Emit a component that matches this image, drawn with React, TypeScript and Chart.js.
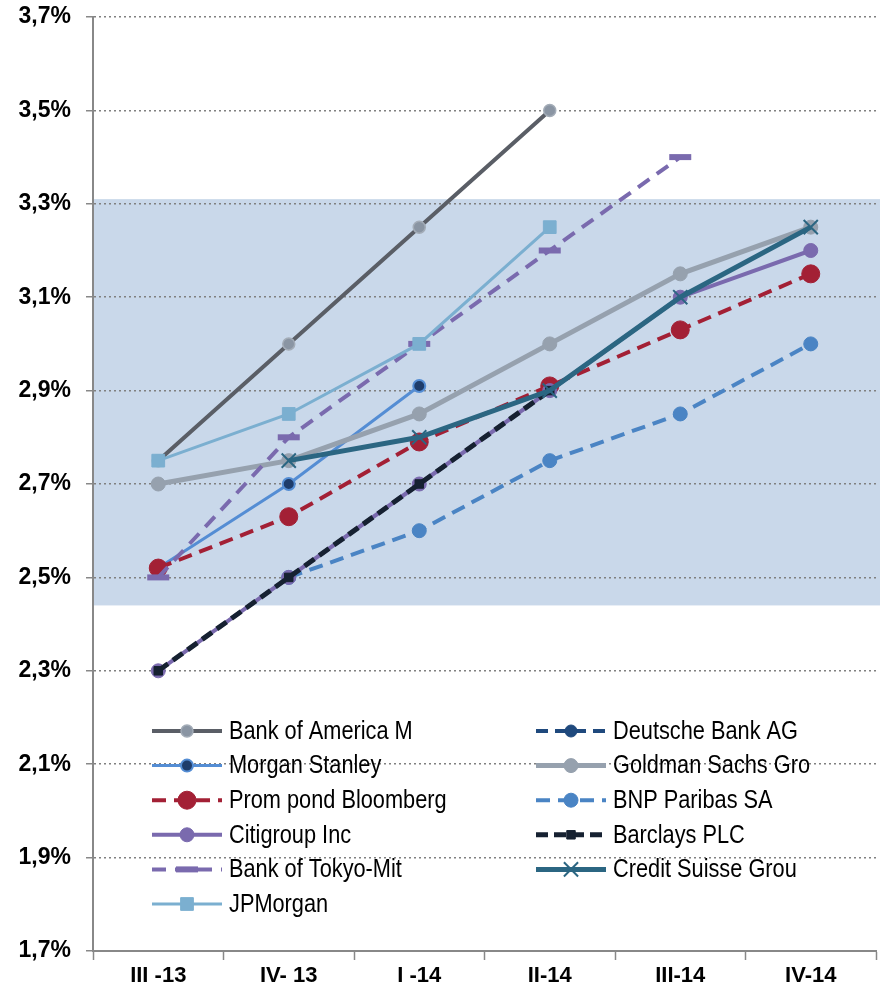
import React, { useEffect, useRef } from 'react';
import { Chart, registerables } from 'chart.js';
import { drawPoint } from 'chart.js/helpers';

Chart.register(...registerables);

const categories = ['III -13', 'IV- 13', 'I -14', 'II-14', 'III-14', 'IV-14'];

const bankOfAmerica = [2.75, 3.0, 3.25, 3.5, null, null];
const deutscheBank = [null, null, null, null, null, null];
const morganStanley = [2.52, 2.7, 2.91, null, null, null];
const goldmanSachs = [2.7, 2.75, 2.85, 3.0, 3.15, 3.25];
const promPondBloomberg = [2.52, 2.63, 2.79, 2.91, 3.03, 3.15];
const bnpParibas = [null, 2.5, 2.6, 2.75, 2.85, 3.0];
const citigroup = [2.3, 2.5, 2.7, 2.9, 3.1, 3.2];
const barclays = [2.3, 2.5, 2.7, 2.9, null, null];
const bankOfTokyo = [2.5, 2.8, 3.0, 3.2, 3.4, null];
const creditSuisse = [null, 2.75, 2.8, 2.9, 3.1, 3.25];
const jpMorgan = [2.75, 2.85, 3.0, 3.25, null, null];

const seriesNames = [
  'Bank of America M',
  'Deutsche Bank AG',
  'Morgan Stanley',
  'Goldman Sachs Gro',
  'Prom pond Bloomberg',
  'BNP Paribas SA',
  'Citigroup Inc',
  'Barclays PLC',
  'Bank of Tokyo-Mit',
  'Credit Suisse Grou',
  'JPMorgan',
];

const bandRange = [2.44, 3.31];
const yMin = 1.7;
const yMax = 3.7;
const yStep = 0.2;

const TICK_FONT = "'Liberation Sans', Arial, sans-serif";
const LEGEND_FONT = "'Liberation Sans', Arial, sans-serif";

const seriesValues = [
  bankOfAmerica,
  deutscheBank,
  morganStanley,
  goldmanSachs,
  promPondBloomberg,
  bnpParibas,
  citigroup,
  barclays,
  bankOfTokyo,
  creditSuisse,
  jpMorgan,
];

const styles: any[] = [
  { borderColor: '#5A5E66', borderWidth: 4, borderDash: [], pointStyle: 'circle', pointRadius: 6, pointBackgroundColor: '#8A95A3', pointBorderColor: '#A3ACB7', pointBorderWidth: 1.5 },
  { borderColor: '#1F497D', borderWidth: 4, borderDash: [12, 7], pointStyle: 'circle', pointRadius: 6, pointBackgroundColor: '#1F497D', pointBorderColor: '#1F497D', pointBorderWidth: 1 },
  { borderColor: '#548DD4', borderWidth: 3, borderDash: [], pointStyle: 'circle', pointRadius: 6, pointBackgroundColor: '#1F3D6B', pointBorderColor: '#548DD4', pointBorderWidth: 2 },
  { borderColor: '#96A1AE', borderWidth: 5, borderDash: [], pointStyle: 'circle', pointRadius: 7, pointBackgroundColor: '#96A1AE', pointBorderColor: '#96A1AE', pointBorderWidth: 1 },
  { borderColor: '#A32035', borderWidth: 4, borderDash: [14, 8], pointStyle: 'circle', pointRadius: 9, pointBackgroundColor: '#A32035', pointBorderColor: '#A32035', pointBorderWidth: 1 },
  { borderColor: '#4A84C4', borderWidth: 4, borderDash: [14, 8], pointStyle: 'circle', pointRadius: 7, pointBackgroundColor: '#4A84C4', pointBorderColor: '#4A84C4', pointBorderWidth: 1 },
  { borderColor: '#7A6AAE', borderWidth: 4, borderDash: [], pointStyle: 'circle', pointRadius: 7, pointBackgroundColor: '#7A6AAE', pointBorderColor: '#7A6AAE', pointBorderWidth: 1 },
  { borderColor: '#162131', borderWidth: 5, borderDash: [12, 6], pointStyle: 'rect', pointRadius: 6, pointBackgroundColor: '#162131', pointBorderColor: '#162131', pointBorderWidth: 1 },
  { borderColor: '#7A6AAE', borderWidth: 4, borderDash: [14, 9], pointStyle: 'line', pointRadius: 11, pointBackgroundColor: '#7A6AAE', pointBorderColor: '#7A6AAE', pointBorderWidth: 6 },
  { borderColor: '#2B6682', borderWidth: 5, borderDash: [], pointStyle: 'crossRot', pointRadius: 10, pointBackgroundColor: '#2B6682', pointBorderColor: '#2B6682', pointBorderWidth: 2 },
  { borderColor: '#7BAFD0', borderWidth: 3, borderDash: [], pointStyle: 'rect', pointRadius: 9, pointBackgroundColor: '#7BAFD0', pointBorderColor: '#7BAFD0', pointBorderWidth: 1 },
];

const bandPlugin = {
  id: 'band',
  beforeDraw(chart: any) {
    const { ctx, chartArea, scales } = chart;
    const yTop = scales.y.getPixelForValue(bandRange[1]);
    const yBot = scales.y.getPixelForValue(bandRange[0]);
    ctx.save();
    ctx.fillStyle = '#C9D8EA';
    ctx.fillRect(chartArea.left, yTop, chartArea.right + 4 - chartArea.left, yBot - yTop);
    ctx.restore();
  },
};

const legendPlugin = {
  id: 'insideLegend',
  afterDatasetsDraw(chart: any) {
    const { ctx, chartArea } = chart;
    chart.data.datasets.forEach((ds: any, i: number) => {
      const col = i % 2;
      const row = Math.floor(i / 2);
      const x0 = chartArea.left + (col === 0 ? 59 : 443);
      const y = chartArea.top + 714 + row * 34.6;
      ctx.save();
      ctx.strokeStyle = ds.borderColor;
      ctx.lineWidth = ds.borderWidth;
      ctx.setLineDash(ds.borderDash || []);
      ctx.beginPath();
      ctx.moveTo(x0, y);
      ctx.lineTo(x0 + 70, y);
      ctx.stroke();
      ctx.setLineDash([]);
      ctx.fillStyle = ds.pointBackgroundColor;
      ctx.strokeStyle = ds.pointBorderColor;
      ctx.lineWidth = ds.pointBorderWidth;
      drawPoint(ctx, { pointStyle: ds.pointStyle, radius: ds.pointRadius, rotation: 0, borderWidth: ds.pointBorderWidth }, x0 + 35, y);
      ctx.translate(x0 + 77, y + 1);
      ctx.scale(0.87, 1);
      ctx.fillStyle = '#000';
      ctx.font = `25px ${LEGEND_FONT}`;
      ctx.textBaseline = 'middle';
      ctx.textAlign = 'left';
      ctx.fillText(seriesNames[i], 0, 0);
      ctx.restore();
    });
  },
};

export default function App() {
  const canvasRef = useRef<HTMLCanvasElement | null>(null);

  useEffect(() => {
    document.body.style.margin = '0';
    const canvas = canvasRef.current;
    if (!canvas) return;
    const n = seriesValues.length;
    const datasets = seriesValues.map((vals, i) => ({
      label: seriesNames[i],
      data: vals,
      ...styles[i],
      backgroundColor: styles[i].borderColor,
      fill: false,
      tension: 0,
      spanGaps: false,
      order: n - i,
    }));
    const chart = new Chart(canvas, {
      type: 'line',
      data: { labels: categories, datasets },
      options: {
        responsive: false,
        animation: false,
        devicePixelRatio: 1,
        layout: { autoPadding: false, padding: { left: 0, right: 7, top: 17, bottom: 0 } },
        plugins: {
          legend: { display: false },
          tooltip: { enabled: false },
        },
        scales: {
          x: {
            offset: true,
            grid: {
              offset: true,
              drawOnChartArea: false,
              drawTicks: true,
              tickLength: 9,
              tickColor: '#888888',
              tickWidth: 1.5,
            },
            border: { display: true, color: '#888888', width: 2 },
            ticks: {
              color: '#000',
              font: { family: TICK_FONT, size: 22, weight: 'bold' },
              padding: 3,
              maxRotation: 0,
              autoSkip: false,
            },
            afterFit: (s: any) => {
              s.height = 44;
              s.paddingLeft = 0;
              s.paddingRight = 0;
            },
          },
          y: {
            min: yMin,
            max: yMax,
            grid: {
              color: '#808080',
              lineWidth: 1.5,
              drawTicks: true,
              tickLength: 7,
              tickColor: '#888888',
              tickWidth: 1.5,
              tickBorderDash: [],
            },
            border: { display: true, color: '#888888', width: 2, dash: [2, 3] },
            ticks: {
              stepSize: yStep,
              color: '#000',
              font: { family: TICK_FONT, size: 23, weight: 'bold' },
              padding: 15,
              callback: (v: any) => Number(v).toFixed(1).replace('.', ',') + '%',
            },
            afterFit: (s: any) => {
              s.width = 93;
              s.paddingTop = 0;
              s.paddingBottom = 0;
            },
          },
        },
      } as any,
      plugins: [bandPlugin, legendPlugin],
    });
    return () => chart.destroy();
  }, []);

  return (
    <div style={{ width: 883, height: 995 }}>
      <canvas ref={canvasRef} width={883} height={995} style={{ width: 883, height: 995, display: 'block' }} />
    </div>
  );
}
